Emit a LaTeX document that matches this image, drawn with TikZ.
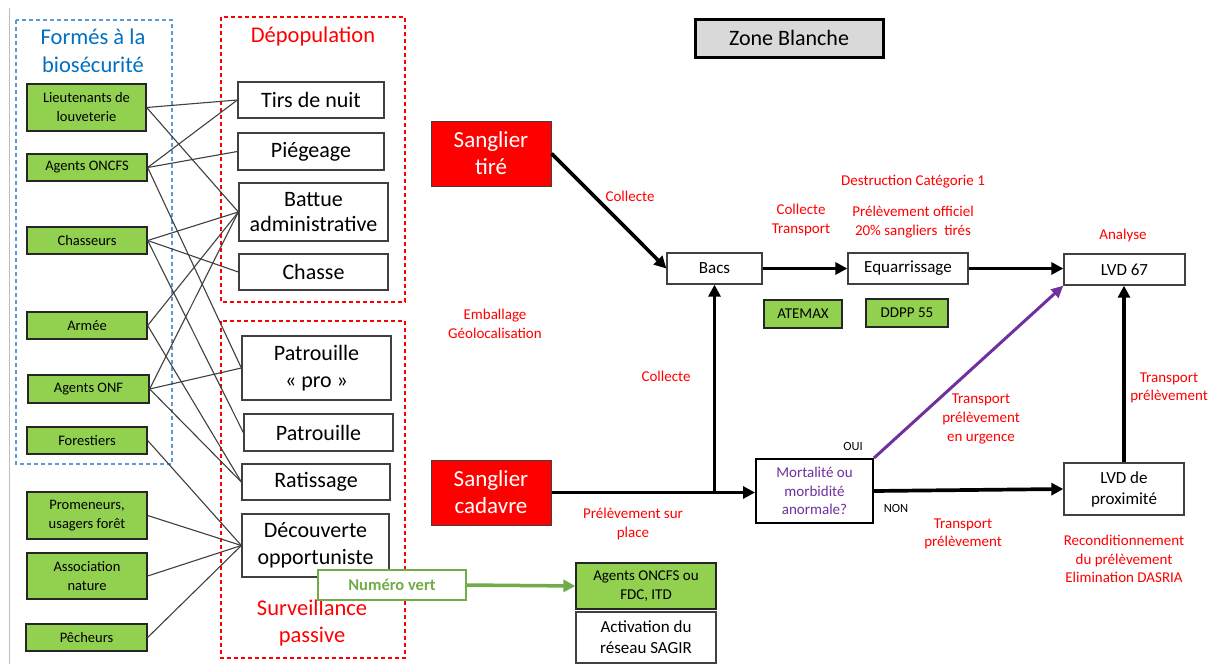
\documentclass[tikz,border=0pt]{standalone}
\usepackage{fontspec}
\setmainfont{Carlito}
\usetikzlibrary{arrows.meta}
\definecolor{gfill}{HTML}{92D050}
\definecolor{rred}{HTML}{FF0000}
\definecolor{bblue}{HTML}{0070C0}
\definecolor{dblue}{HTML}{5B9BD5}
\definecolor{purp}{HTML}{7030A0}
\definecolor{vgreen}{HTML}{70AD47}
\definecolor{zgray}{HTML}{D9D9D9}
\definecolor{bord}{HTML}{404040}
\newcommand\myfs[2]{\fontsize{#1}{#2}\selectfont}
\tikzset{
  gbox/.style={draw=black!85, line width=1.3pt, fill=gfill, inner sep=0pt, align=center, font=\myfs{14.5}{19}},
  wbox/.style={draw=bord, line width=1.3pt, fill=white, inner sep=0pt, align=center, font=\myfs{22}{27}},
  fbox/.style={draw=bord, line width=1.3pt, fill=white, inner sep=0pt, align=center, font=\myfs{17}{21}},
  rbox/.style={draw=bord, line width=1pt, fill=rred, text=white, inner sep=0pt, align=center, font=\myfs{23}{27}},
  lbl/.style={text=rred, align=center, inner sep=0pt, font=\myfs{15}{18.7}},
  link/.style={draw=bord, line width=1.1pt},
  flow/.style={draw=black, line width=3.7pt, -{Triangle[length=12pt,width=12pt]}},
  dashbox/.style={line width=1.1pt, dash pattern=on 4pt off 3pt},
}
\begin{document}
\begin{tikzpicture}[x=1pt,y=-1pt]
\useasboundingbox (0,0) rectangle (1216,664);
\fill[white] (0,0) rectangle (1216,664);
% left thin gray line
\draw[black!25, line width=1pt] (9.5,8) -- (9.5,664);

% dashed frames
\draw[dashbox, color=dblue] (16,20) rectangle (172,464);
\draw[dashbox, color=red] (221,17) rectangle (405,302);
\draw[dashbox, color=red] (221,321) rectangle (405,658);

% titles
\node[text=bblue, align=center, font=\myfs{22.5}{28}] (tform) at (93,51) {Formés à la\\biosécurité};
\node[text=rred, font=\myfs{22.5}{28}] (tdep) at (313,37) {Dépopulation};
\node[text=rred, align=center, font=\myfs{22.5}{27}] (tsurv) at (312,623) {Surveillance\\passive};

% left green boxes
\node[gbox, minimum width=119pt, minimum height=47pt] (lieut) at (86.5,107.5) {Lieutenants de\\louveterie};
\node[gbox, minimum width=120pt, minimum height=27pt] (oncfs) at (87,167.5) {Agents ONCFS};
\node[gbox, minimum width=120pt, minimum height=27pt] (chass) at (87,240.5) {Chasseurs};
\node[gbox, minimum width=120pt, minimum height=27pt] (armee) at (87,325.5) {Armée};
\node[gbox, minimum width=121pt, minimum height=28pt] (onf) at (88.5,389) {Agents ONF};
\node[gbox, minimum width=120pt, minimum height=27pt] (forest) at (87,440.5) {Forestiers};
\node[gbox, minimum width=120pt, minimum height=47pt] (prom) at (87,515.5) {Promeneurs,\\usagers forêt};
\node[gbox, minimum width=120pt, minimum height=46pt] (assoc) at (87,576) {Association\\nature};
\node[gbox, minimum width=121pt, minimum height=27pt] (pech) at (86.5,637.5) {Pêcheurs};

% right boxes of left part
\node[wbox, minimum width=146pt, minimum height=36pt] (tirs) at (311,100) {Tirs de nuit};
\node[wbox, minimum width=146pt, minimum height=37pt] (pieg) at (311,151.5) {Piégeage};
\node[wbox, minimum width=149pt, minimum height=58pt, font=\myfs{22}{25}] (battue) at (313.5,212) {Battue\\administrative};
\node[wbox, minimum width=149pt, minimum height=36pt] (chasse) at (313.5,272) {Chasse};
\node[wbox, minimum width=149pt, minimum height=64pt] (pro) at (316.5,368) {Patrouille\\«~pro~»};
\node[wbox, minimum width=149pt, minimum height=37pt] (patr) at (318.5,432.5) {Patrouille};
\node[wbox, minimum width=148pt, minimum height=36pt] (ratis) at (316,482) {Ratissage};
\node[wbox, minimum width=147pt, minimum height=63pt] (decouv) at (315.5,545.5) {Découverte\\opportuniste};

% links
\draw[link] (lieut.east) -- (tirs.west);
\draw[link] (lieut.east) -- (battue.west);
\draw[link] (oncfs.east) -- (tirs.west);
\draw[link] (oncfs.east) -- (pieg.west);
\draw[link] (oncfs.east) -- (pro.west);
\draw[link] (chass.east) -- (battue.west);
\draw[link] (chass.east) -- (chasse.west);
\draw[link] (chass.east) -- (patr.west);
\draw[link] (armee.east) -- (battue.west);
\draw[link] (armee.east) -- (ratis.west);
\draw[link] (onf.east) -- (battue.west);
\draw[link] (onf.east) -- (pro.west);
\draw[link] (onf.east) -- (ratis.west);
\draw[link] (forest.east) -- (decouv.west);
\draw[link] (prom.east) -- (decouv.west);
\draw[link] (assoc.east) -- (decouv.west);
\draw[link] (pech.east) -- (decouv.west);

% right part
\node[draw=black, line width=3pt, fill=zgray, minimum width=188pt, minimum height=38pt, inner sep=0pt, font=\myfs{22}{26}] (zone) at (789,38) {Zone Blanche};
\node[rbox, minimum width=120pt, minimum height=65pt] (tire) at (491,153.5) {Sanglier\\tiré};
\node[rbox, minimum width=120pt, minimum height=65pt] (cadavre) at (491,492.5) {Sanglier\\cadavre};
\node[fbox, minimum width=95pt, minimum height=31pt] (bacs) at (714.5,268.5) {Bacs};
\node[fbox, minimum width=120pt, minimum height=31pt] (equar) at (908,268.5) {Equarrissage};
\node[fbox, minimum width=121pt, minimum height=31pt] (lvd) at (1124.5,269.5) {LVD 67};
\node[gbox, minimum width=78pt, minimum height=28pt, font=\myfs{15}{19}] (atemax) at (803,314) {ATEMAX};
\node[gbox, minimum width=82pt, minimum height=28pt, font=\myfs{15}{19}] (ddpp) at (907,313) {DDPP 55};
\node[draw=black, line width=2pt, fill=white, text=purp, align=center, inner sep=0pt, minimum width=117pt, minimum height=64pt, font=\myfs{15}{18.5}] (mort) at (814.5,491) {Mortalité ou\\morbidité\\anormale?};
\node[fbox, minimum width=120pt, minimum height=52pt] (prox) at (1124,489) {LVD de\\proximité};
\node[gbox, minimum width=140pt, minimum height=46pt, font=\myfs{15}{19}] (agents) at (646,586) {Agents ONCFS ou\\FDC, ITD};
\node[fbox, minimum width=140pt, minimum height=51pt] (sagir) at (646,637.5) {Activation du\\réseau SAGIR};
\node[draw=vgreen, line width=1.2pt, fill=white, text=vgreen, inner sep=0pt, minimum width=148pt, minimum height=30pt, font=\bfseries\myfs{16.5}{19}] (numvert) at (392,585) {Numéro vert};

% flows
\draw[flow] (tire.east) -- (bacs.west);
\draw[flow] (bacs.east) -- (equar.west);
\draw[flow] (equar.east) -- (equar.east -| lvd.west);
\draw[flow] (cadavre.east) -- (cadavre.east -| mort.west);
\coordinate (j) at (bacs.south |- cadavre.east);
\draw[flow] ([yshift=1.85pt]j) -- (bacs.south);
\draw[flow, draw=purp, line width=3pt, -{Triangle[length=12pt,width=11pt]}] (mort.north east) -- (lvd.south west);
\draw[flow] (mort.east) -- (prox.west);
\draw[flow] (prox.north) -- (prox.north |- lvd.south);
\draw[flow, draw=vgreen, line width=3.5pt] (numvert.east) -- (agents.west);

% labels
\node[lbl] (l1) at (630,196) {Collecte};
\node[lbl] (l2) at (801,220) {Collecte\\Transport};
\node[lbl] (l3) at (913,182) {Destruction Catégorie 1};
\node[lbl] (l4) at (913,222) {Prélèvement officiel\\20\% sangliers \ tirés};
\node[lbl] (l5) at (1123,235) {Analyse};
\node[lbl] (l6) at (495,323.5) {Emballage\\Géolocalisation};
\node[lbl] (l7) at (666,376) {Collecte};
\node[lbl] (l8) at (633,524) {Prélèvement sur\\place};
\node[inner sep=0pt, font=\myfs{12.5}{15}] (oui) at (853,446) {OUI};
\node[inner sep=0pt, font=\myfs{12.5}{15}] (non) at (896,508) {NON};
\node[lbl] (l9) at (981,419) {Transport\\prélèvement\\en urgence};
\node[lbl] (l10) at (963,534) {Transport\\prélèvement};
\node[lbl] (l11) at (1169,388) {Transport\\prélèvement};
\node[lbl] (l12) at (1124,559) {Reconditionnement\\du prélèvement\\Elimination DASRIA};
\end{tikzpicture}
\end{document}
